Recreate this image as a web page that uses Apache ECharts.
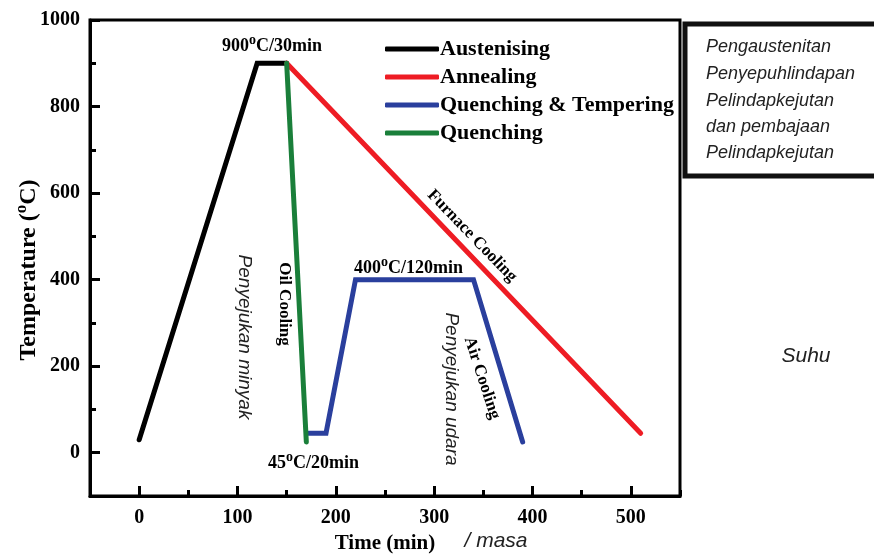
<!DOCTYPE html>
<html><head><meta charset="utf-8">
<script src="https://cdn.jsdelivr.net/npm/echarts@6/dist/echarts.min.js"></script>
<style>html,body{margin:0;padding:0;background:#fff}#c{width:874px;height:559px}</style>
</head><body><div id="c"></div>
<script>
// Data
const seriesNames = ['Austenising', 'Annealing', 'Quenching & Tempering', 'Quenching'];
const seriesColors = ['#000000', '#ee1c24', '#2a3f9d', '#1a7f3a'];
const austenising = [[0, 30], [120, 900], [150, 900]];
const annealing = [[150, 900], [510, 45]];
const quenchTemper = [[172, 45], [190, 45], [220, 400], [340, 400], [390, 25]];
const quenching = [[150, 900], [170, 25]];
const xMajor = [0, 100, 200, 300, 400, 500];
const xMinor = [-50, 50, 150, 250, 350, 450, 550];
const yMajor = [0, 200, 400, 600, 800, 1000];
const yMinor = [-100, 100, 300, 500, 700, 900];

const serif = "'Liberation Serif','Times New Roman',serif";
const sans = "'Liberation Sans Narrow','Liberation Sans',Arial,sans-serif";
const chart = echarts.init(document.getElementById('c'));
const seriesData = [austenising, annealing, quenchTemper, quenching];
const supRich = { s: { fontFamily: serif, fontWeight: 'bold', fontSize: 14, verticalAlign: 'top', padding: [0, 0, 12, 0] } };

chart.setOption({
  animation: false,
  grid: { left: 90, top: 20, right: 194, bottom: 57, show: true, borderColor: '#000', borderWidth: 3, backgroundColor: 'transparent' },
  legend: {
    orient: 'vertical', left: 380, top: 33, itemGap: 6,
    itemWidth: 54, itemHeight: 5, icon: 'roundRect',
    textStyle: { fontFamily: serif, fontWeight: 'bold', fontSize: 22, color: '#000', padding: [0, 0, 0, -4] },
    data: seriesNames
  },
  xAxis: [{
    type: 'value', min: -50, max: 550,
    axisLine: { show: true, onZero: false, lineStyle: { color: '#000', width: 3 } },
    axisTick: { show: true, inside: true, length: 10, lineStyle: { width: 3, color: '#000' }, customValues: xMajor },
    axisLabel: { customValues: xMajor, formatter: v => String(v), fontFamily: serif, fontWeight: 'bold', fontSize: 20, color: '#000', margin: 12 },
    splitLine: { show: false },
    name: 'Time (min)', nameLocation: 'middle', nameGap: 37,
    nameTextStyle: { fontFamily: serif, fontWeight: 'bold', fontSize: 21, color: '#000' }
  }, {
    type: 'value', min: -50, max: 550, position: 'bottom',
    axisLine: { show: false, onZero: false },
    axisTick: { show: true, inside: true, length: 6, lineStyle: { width: 3, color: '#000' }, customValues: xMinor },
    axisLabel: { show: false }, splitLine: { show: false }
  }],
  yAxis: [{
    type: 'value', min: -100, max: 1000,
    axisLine: { show: true, onZero: false, lineStyle: { color: '#000', width: 3 } },
    axisTick: { show: true, inside: true, length: 10, lineStyle: { width: 3, color: '#000' }, customValues: yMajor },
    axisLabel: { customValues: yMajor, formatter: v => String(v), fontFamily: serif, fontWeight: 'bold', fontSize: 20, color: '#000', margin: 10 },
    splitLine: { show: false }
  }, {
    type: 'value', min: -100, max: 1000, position: 'left',
    axisLine: { show: false, onZero: false },
    axisTick: { show: true, inside: true, length: 6, lineStyle: { width: 3, color: '#000' }, customValues: yMinor },
    axisLabel: { show: false }, splitLine: { show: false }
  }],
  series: seriesNames.map((n, i) => ({
    name: n, type: 'line', data: seriesData[i], showSymbol: false, symbol: 'none',
    color: seriesColors[i],
    lineStyle: { width: 5, color: seriesColors[i], cap: 'round', join: 'miter' },
    z: i === 3 ? 3 : 2
  })),
  graphic: [
    { type: 'text', x: 29, y: 270, rotation: Math.PI / 2, style: { text: 'Temperature ({t|o}C)', align: 'center', verticalAlign: 'middle', fontFamily: serif, fontWeight: 'bold', fontSize: 24, fill: '#000',
      rich: { t: { fontFamily: serif, fontWeight: 'bold', fontSize: 17, verticalAlign: 'top', padding: [0, 0, 14, 0] } } } },
    { type: 'text', left: 222, top: 33, style: { text: '900{s|o}C/30min', fontFamily: serif, fontWeight: 'bold', fontSize: 18, fill: '#000', rich: supRich } },
    { type: 'text', left: 354, top: 255, style: { text: '400{s|o}C/120min', fontFamily: serif, fontWeight: 'bold', fontSize: 18, fill: '#000', rich: supRich } },
    { type: 'text', left: 268, top: 450, style: { text: '45{s|o}C/20min', fontFamily: serif, fontWeight: 'bold', fontSize: 18, fill: '#000', rich: supRich } },
    { type: 'text', x: 472, y: 236, rotation: -46 * Math.PI / 180, style: { text: 'Furnace Cooling', align: 'center', verticalAlign: 'middle', fontFamily: serif, fontWeight: 'bold', fontSize: 17, fill: '#000' } },
    { type: 'text', x: 284, y: 304, rotation: -Math.PI / 2, style: { text: 'Oil Cooling', align: 'center', verticalAlign: 'middle', fontFamily: serif, fontWeight: 'bold', fontSize: 17, fill: '#000' } },
    { type: 'text', x: 482, y: 378, rotation: -72 * Math.PI / 180, style: { text: 'Air Cooling', align: 'center', verticalAlign: 'middle', fontFamily: serif, fontWeight: 'bold', fontSize: 17, fill: '#000' } },
    { type: 'text', x: 244, y: 337, rotation: -Math.PI / 2, style: { text: 'Penyejukan minyak', align: 'center', verticalAlign: 'middle', fontFamily: sans, fontStyle: 'italic', fontSize: 19, fill: '#222' } },
    { type: 'text', x: 451, y: 389, rotation: -Math.PI / 2, style: { text: 'Penyejukan udara', align: 'center', verticalAlign: 'middle', fontFamily: sans, fontStyle: 'italic', fontSize: 19, fill: '#222' } },
    { type: 'text', x: 806, y: 356, style: { text: 'Suhu', align: 'center', verticalAlign: 'middle', fontFamily: sans, fontStyle: 'italic', fontSize: 21, fill: '#222' } },
    { type: 'text', x: 496, y: 541, style: { text: '/ masa', align: 'center', verticalAlign: 'middle', fontFamily: sans, fontStyle: 'italic', fontSize: 21, fill: '#222' } },
    { type: 'rect', shape: { x: 685, y: 24, width: 195, height: 152 }, style: { fill: '#fff', stroke: '#111', lineWidth: 5 }, z: 10 },
    { type: 'text', x: 706, y: 47, z: 11, style: { text: 'Pengaustenitan', verticalAlign: 'middle', fontFamily: sans, fontStyle: 'italic', fontSize: 18, fill: '#222' } },
    { type: 'text', x: 706, y: 74, z: 11, style: { text: 'Penyepuhlindapan', verticalAlign: 'middle', fontFamily: sans, fontStyle: 'italic', fontSize: 18, fill: '#222' } },
    { type: 'text', x: 706, y: 101, z: 11, style: { text: 'Pelindapkejutan', verticalAlign: 'middle', fontFamily: sans, fontStyle: 'italic', fontSize: 18, fill: '#222' } },
    { type: 'text', x: 706, y: 127, z: 11, style: { text: 'dan pembajaan', verticalAlign: 'middle', fontFamily: sans, fontStyle: 'italic', fontSize: 18, fill: '#222' } },
    { type: 'text', x: 706, y: 153, z: 11, style: { text: 'Pelindapkejutan', verticalAlign: 'middle', fontFamily: sans, fontStyle: 'italic', fontSize: 18, fill: '#222' } }
  ]
});
</script></body></html>
